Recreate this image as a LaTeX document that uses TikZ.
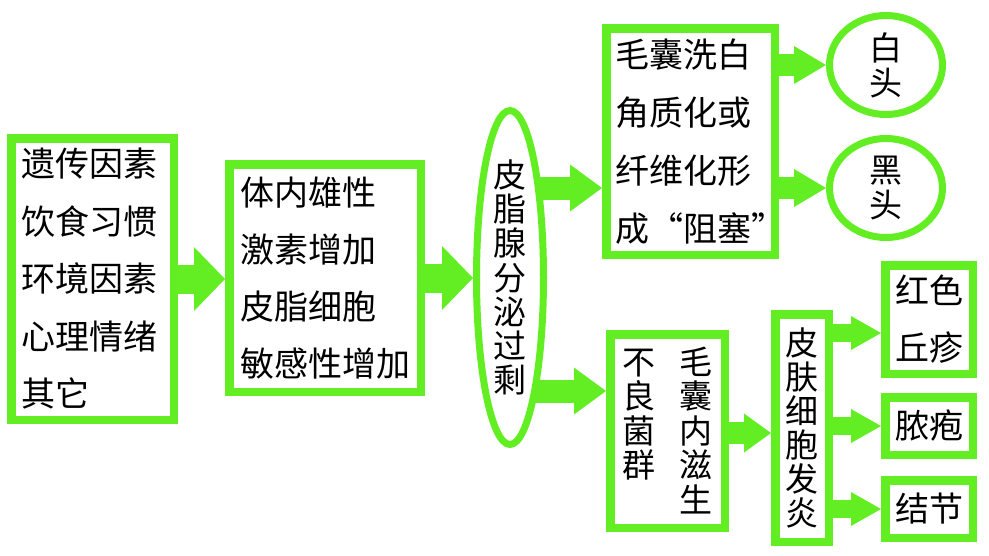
\documentclass[tikz,border=0pt]{standalone}
\usepackage{fontspec}
\setmainfont{Noto Sans CJK SC}
\usetikzlibrary{arrows.meta,shapes.geometric,backgrounds}
\definecolor{gr}{RGB}{99,238,36}
\tikzset{
  box/.style={draw=gr, line width=8.5pt, fill=white, rectangle, inner sep=0pt, align=left},
  oval/.style={draw=gr, line width=7pt, fill=white, ellipse, inner sep=0pt, align=center},
  fatA/.style={draw=gr, line width=29pt, -{Triangle[length=31pt,width=64pt,line width=0pt]}},
  fatB/.style={draw=gr, line width=23pt, -{Triangle[length=32pt,width=47pt,line width=0pt]}},
  fatC/.style={draw=gr, line width=22pt, -{Triangle[length=32pt,width=38pt,line width=0pt]}},
  fatD/.style={draw=gr, line width=22pt, -{Triangle[length=27pt,width=39pt,line width=0pt]}},
  fatE/.style={draw=gr, line width=18pt, -{Triangle[length=30pt,width=34pt,line width=0pt]}},
}
\begin{document}
\begin{tikzpicture}[x=1pt,y=-1pt]
\useasboundingbox (0,0) rectangle (989,555);
\node[box, minimum width=162.5pt, minimum height=281.5pt, text width=142pt,
  font=\fontsize{34}{57.5}\selectfont] (b1) at (92.5,279)
  {遗传因素\\饮食习惯\\环境因素\\心理情绪\\其它};
\node[box, minimum width=191.5pt, minimum height=227.5pt,
  font=\fontsize{34}{57}\selectfont] (b2) at (325,278)
  {体内雄性\\激素增加\\皮脂细胞\\敏感性增加};
\node[oval, minimum width=67pt, minimum height=298pt,
  font=\fontsize{33}{34.3}\selectfont] (ell) at (510,277.5)
  {皮\\脂\\腺\\分\\泌\\过\\剩};
\node[box, minimum width=168.5pt, minimum height=226.5pt, text width=150pt,
  font=\fontsize{34}{58}\selectfont] (top) at (690.5,141.5)
  {毛囊洗白\\角质化或\\纤维化形\\成“阻塞”};
\node[oval, minimum width=113pt, minimum height=99pt,
  font=\fontsize{33}{35}\selectfont] (wh) at (886,65) {白\\头};
\node[oval, minimum width=113pt, minimum height=99pt,
  font=\fontsize{33}{35}\selectfont] (bk) at (886,188) {黑\\头};
\node[box, align=center, minimum width=114.5pt, minimum height=193.5pt,
  font=\fontsize{33}{34.5}\selectfont] (bot) at (667.5,431)
  {不\hspace{24pt}毛\\良\hspace{24pt}囊\\菌\hspace{24pt}内\\群\hspace{24pt}滋\\\phantom{群}\hspace{24pt}生};
\node[box, align=center, minimum width=53.5pt, minimum height=227.5pt,
  font=\fontsize{33}{34}\selectfont] (skin) at (802,428)
  {皮\\肤\\细\\胞\\发\\炎};
\node[box, align=center, minimum width=87.5pt, minimum height=108.5pt,
  font=\fontsize{34}{57}\selectfont] (s1) at (929,319.5) {红色\\丘疹};
\node[box, align=center, minimum width=87.5pt, minimum height=57.5pt,
  font=\fontsize{34}{57}\selectfont] (s2) at (929,426) {脓疱};
\node[box, align=center, minimum width=87.5pt, minimum height=57.5pt,
  font=\fontsize{34}{57}\selectfont] (s3) at (929,509) {结节};
\coordinate (t3) at (top.west |- 0,188);
\coordinate (t4) at (bot.west |- 0,391);
\coordinate (t7) at (skin.west |- 0,433);
\coordinate (t8) at (s1.west |- 0,333);
\begin{scope}[on background layer]
\draw[fatA] (b1.center) -- (b2.west |- b1.center);
\draw[fatA] (b2.center) -- (ell.west |- b2.center);
\draw[fatB] (ell.center |- t3) -- (t3);
\draw[fatB] (ell.center |- t4) -- (t4);
\draw[fatC] (top.center |- wh.west) -- (wh.west);
\draw[fatC] (top.center |- bk.west) -- (bk.west);
\draw[fatD] (bot.center |- t7) -- (t7);
\draw[fatE] (skin.center |- t8) -- (t8);
\draw[fatE] (skin.center |- s2.west) -- (s2.west);
\draw[fatE] (skin.center |- s3.west) -- (s3.west);
\end{scope}
\end{tikzpicture}
\end{document}
